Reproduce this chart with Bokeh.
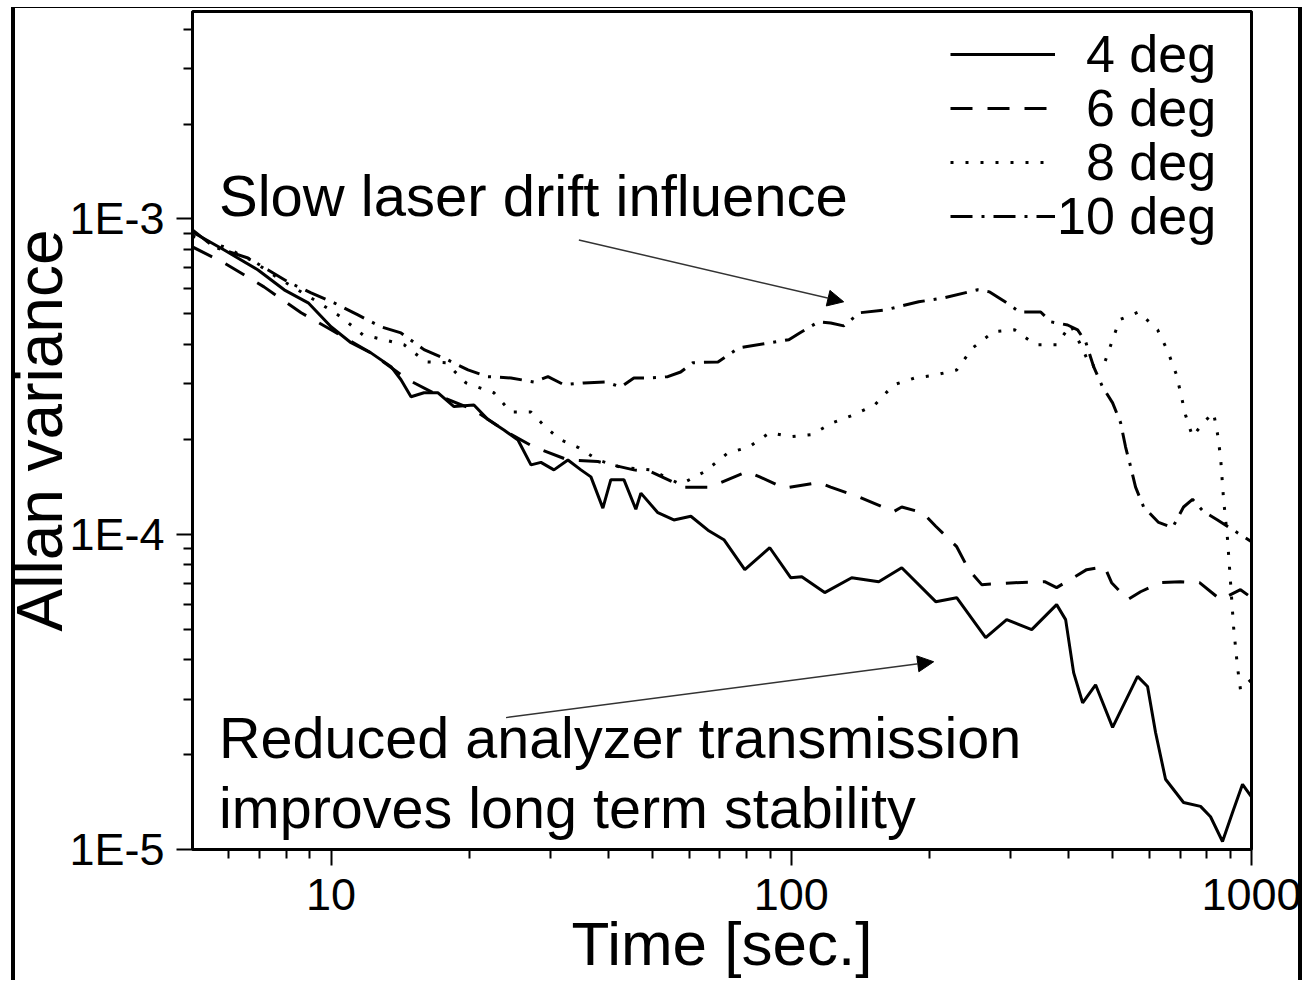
from bokeh.plotting import figure
from bokeh.models import (FixedTicker, Legend, LegendItem, Label, Arrow,
                          NormalHead, Range1d)
from bokeh.embed import file_html
from bokeh.resources import INLINE

FONT = "Liberation Sans"

# ---------------- data ----------------
x_ticks = [10, 100, 1000]
x_tick_labels = ["10", "100", "1000"]
y_ticks = [1e-5, 1e-4, 1e-3]
y_tick_labels = ["1E-5", "1E-4", "1E-3"]

series_labels = ["\u20074 deg", "\u20076 deg", "\u20078 deg", "10 deg"]

# 4 deg (solid)
t4 = [5.0, 5.86, 6.94, 7.91, 8.92, 10.0, 11.05, 12.21, 13.5, 14.19, 14.92, 15.92,
      17.08, 18.5, 20.44, 21.93, 23.75, 25.48, 27.19, 28.58, 30.5, 32.71, 34.91,
      36.7, 38.96, 40.55, 43.28, 45.95, 47.12, 51.3, 55.56, 60.51, 65.91, 71.38,
      79.25, 89.81, 99.7, 105.4, 118.2, 135.3, 154.9, 173.8, 206.0, 228.8, 264.5,
      293.8, 333.0, 377.2, 394.6, 410.7, 429.6, 458.4, 499.1, 565.5, 594.5, 618.8,
      650.5, 711.8, 775.0, 814.7, 865.0, 909.4, 956.1, 1000.0]
v4 = [9.09e-4, 7.97e-4, 6.89e-4, 5.96e-4, 5.42e-4, 4.55e-4, 4.05e-4, 3.76e-4,
      3.40e-4, 3.09e-4, 2.73e-4, 2.81e-4, 2.81e-4, 2.54e-4, 2.57e-4, 2.31e-4,
      2.14e-4, 1.99e-4, 1.66e-4, 1.69e-4, 1.60e-4, 1.72e-4, 1.60e-4, 1.52e-4,
      1.21e-4, 1.49e-4, 1.49e-4, 1.20e-4, 1.35e-4, 1.17e-4, 1.11e-4, 1.14e-4,
      1.03e-4, 9.61e-5, 7.72e-5, 9.06e-5, 7.28e-5, 7.33e-5, 6.53e-5, 7.28e-5,
      7.07e-5, 7.83e-5, 6.11e-5, 6.29e-5, 4.70e-5, 5.36e-5, 4.98e-5, 5.98e-5,
      5.36e-5, 3.64e-5, 2.92e-5, 3.33e-5, 2.44e-5, 3.54e-5, 3.29e-5, 2.35e-5,
      1.67e-5, 1.41e-5, 1.37e-5, 1.27e-5, 1.06e-5, 1.31e-5, 1.61e-5, 1.47e-5]

# 6 deg (dashed)
t6 = [5.0, 5.86, 7.15, 8.61, 10.0, 12.21, 14.70, 17.33, 20.44, 24.23, 27.60, 32.71,
      38.0, 45.5, 49.5, 58.4, 66.5, 80.1, 85.4, 96.8, 114.7, 121.8, 140.8, 167.0,
      173.8, 193.0, 206.0, 228.8, 243.0, 259.3, 305.6, 355.3, 377.2, 438.3, 479.6,
      496.6, 538.0, 574.1, 634.6, 701.3, 771.1, 856.5, 946.5, 1000.0]
v6 = [8.15e-4, 7.25e-4, 6.09e-4, 5.04e-4, 4.45e-4, 3.76e-4, 3.09e-4, 2.73e-4,
      2.48e-4, 2.10e-4, 1.89e-4, 1.72e-4, 1.70e-4, 1.60e-4, 1.58e-4, 1.41e-4,
      1.41e-4, 1.58e-4, 1.52e-4, 1.40e-4, 1.46e-4, 1.41e-4, 1.31e-4, 1.18e-4,
      1.22e-4, 1.17e-4, 1.06e-4, 9.13e-5, 7.72e-5, 6.92e-5, 7.02e-5, 7.07e-5,
      6.77e-5, 7.72e-5, 7.89e-5, 7.02e-5, 6.20e-5, 6.57e-5, 7.02e-5, 7.07e-5,
      7.02e-5, 6.20e-5, 6.67e-5, 6.29e-5]

# 8 deg (dotted)
t8 = [5.0, 5.86, 6.70, 7.67, 9.42, 10.51, 11.73, 13.03, 14.41, 16.08, 17.77, 19.64,
      22.59, 24.60, 27.19, 29.31, 31.59, 34.56, 38.0, 42.64, 49.5, 57.5, 64.9, 72.8,
      80.9, 89.8, 99.7, 110.8, 123.1, 136.7, 151.8, 167.0, 185.4, 206.0, 228.8,
      247.9, 275.3, 305.6, 339.6, 377.2, 404.6, 427.4, 447.1, 479.6, 496.6, 516.9,
      568.3, 625.2, 657.1, 687.3, 718.8, 744.5, 786.5, 827.0, 843.7, 856.5, 869.6,
      887.2, 900.5, 914.1, 932.5, 946.5, 980.2, 1000.0]
v8 = [8.83e-4, 8.15e-4, 7.41e-4, 6.50e-4, 5.42e-4, 4.89e-4, 4.29e-4, 4.14e-4,
      3.99e-4, 3.52e-4, 3.50e-4, 3.02e-4, 2.81e-4, 2.44e-4, 2.44e-4, 2.18e-4,
      1.99e-4, 1.88e-4, 1.72e-4, 1.63e-4, 1.60e-4, 1.44e-4, 1.58e-4, 1.81e-4,
      1.89e-4, 2.10e-4, 2.04e-4, 2.07e-4, 2.26e-4, 2.39e-4, 2.57e-4, 2.98e-4,
      3.13e-4, 3.20e-4, 3.32e-4, 3.90e-4, 4.39e-4, 4.45e-4, 3.99e-4, 3.99e-4,
      4.61e-4, 3.93e-4, 3.40e-4, 3.50e-4, 4.05e-4, 4.79e-4, 5.07e-4, 4.45e-4,
      3.82e-4, 3.20e-4, 2.39e-4, 2.04e-4, 2.26e-4, 2.43e-4, 2.08e-4, 1.76e-4,
      1.29e-4, 9.61e-5, 7.02e-5, 5.09e-5, 3.78e-5, 3.21e-5, 3.38e-5, 3.46e-5]

# 10 deg (dash-dot)
t10 = [5.0, 5.57, 6.60, 7.30, 8.07, 9.05, 10.15, 11.44, 12.84, 14.19, 15.92, 17.95,
       19.84, 21.93, 24.60, 27.60, 29.60, 32.07, 35.44, 39.56, 42.64, 45.5, 48.8,
       53.9, 57.5, 61.1, 69.3, 76.9, 98.8, 104.3, 114.7, 121.8, 130.0, 140.8, 160.4,
       189.2, 214.4, 254.1, 269.8, 293.8, 313.4, 348.3, 366.1, 398.5, 419.0, 436.1,
       453.9, 474.8, 499.1, 519.4, 532.6, 546.1, 559.9, 583.0, 628.3, 673.7, 711.8,
       744.5, 786.5, 843.7, 932.5, 1000.0]
v10 = [9.23e-4, 8.15e-4, 7.52e-4, 6.89e-4, 6.31e-4, 5.83e-4, 5.42e-4, 4.96e-4,
       4.55e-4, 4.35e-4, 3.85e-4, 3.57e-4, 3.32e-4, 3.16e-4, 3.13e-4, 3.04e-4,
       3.16e-4, 2.98e-4, 3.02e-4, 3.04e-4, 2.93e-4, 3.13e-4, 3.13e-4, 3.16e-4,
       3.27e-4, 3.50e-4, 3.52e-4, 3.90e-4, 4.14e-4, 4.35e-4, 4.72e-4, 4.68e-4,
       4.58e-4, 5.04e-4, 5.15e-4, 5.46e-4, 5.62e-4, 5.96e-4, 5.87e-4, 5.42e-4,
       5.07e-4, 5.07e-4, 4.72e-4, 4.61e-4, 4.45e-4, 4.08e-4, 3.40e-4, 2.93e-4,
       2.61e-4, 2.26e-4, 1.89e-4, 1.64e-4, 1.41e-4, 1.22e-4, 1.09e-4, 1.05e-4,
       1.22e-4, 1.29e-4, 1.18e-4, 1.11e-4, 1.01e-4, 9.47e-5]

# annotations (data coordinates)
note1_text = "Slow laser drift influence"
note1_pos = (5.71, 1.191e-3)
arrow1 = (34.55, 8.58e-4, 130.0, 5.46e-4)
note2_lines = ["Reduced analyzer transmission", "improves long term stability"]
note2_pos = [(5.71, 2.25e-5), (5.71, 1.35e-5)]
arrow2 = (24.0, 2.62e-5, 203.9, 3.94e-5)

# ---------------- figure ----------------
page_frame = ("linear-gradient(#000,#000) 11px 7px / 4px 974px no-repeat, "
              "linear-gradient(#000,#000) 1298px 7px / 4px 974px no-repeat, "
              "linear-gradient(#000,#000) 11px 7px / 1291px 1px no-repeat, #fff")

p = figure(width=1302, height=980,
           x_axis_type="log", y_axis_type="log",
           x_range=Range1d(5, 1000), y_range=Range1d(1e-5, 4.55e-3),
           output_backend="svg", toolbar_location=None,
           min_border_left=192, min_border_right=51, min_border_top=11,
           min_border_bottom=130,
           background_fill_color="white", border_fill_alpha=0,
           styles={"background": page_frame})
p.title.visible = False
p.xgrid.visible = False
p.ygrid.visible = False
p.outline_line_color = "black"
p.outline_line_width = 3

x_minor = [m * d for d in (1, 10, 100) for m in range(2, 10) if 5 < m * d < 1000]
y_minor = [m * d for d in (1e-5, 1e-4, 1e-3) for m in range(2, 10) if m * d < 4.55e-3]
p.xaxis.ticker = FixedTicker(ticks=x_ticks, minor_ticks=x_minor)
p.yaxis.ticker = FixedTicker(ticks=y_ticks, minor_ticks=y_minor)
p.xaxis.major_label_overrides = dict(zip(x_ticks, x_tick_labels))
p.yaxis.major_label_overrides = dict(zip(y_ticks, y_tick_labels))

for ax in (p.xaxis[0], p.yaxis[0]):
    ax.axis_line_width = 2
    ax.major_tick_line_width = 2
    ax.minor_tick_line_width = 2
    ax.major_tick_in = 0
    ax.minor_tick_in = 0
    ax.major_tick_out = 16
    ax.minor_tick_out = 9
    ax.major_label_text_font = FONT
    ax.major_label_text_font_size = "45px"
    ax.major_label_text_color = "black"
    ax.axis_label_text_font = FONT
    ax.axis_label_text_font_style = "normal"
    ax.axis_label_text_color = "black"

p.xaxis.axis_label = "Time [sec.]"
p.xaxis.axis_label_text_font_size = "62px"
p.xaxis.major_label_standoff = 13
p.xaxis.axis_label_standoff = -4
p.yaxis.axis_label = "Allan variance"
p.yaxis.axis_label_text_font_size = "64px"
p.yaxis.major_label_standoff = 12
p.yaxis.axis_label_standoff = -10

r4 = p.line(t4, v4, line_color="black", line_width=3)
r6 = p.line(t6, v6, line_color="black", line_width=3, line_dash="22 15")
r8 = p.line(t8, v8, line_color="black", line_width=3, line_dash="3 12")
r10 = p.line(t10, v10, line_color="black", line_width=3, line_dash="22 9 3 9")

# one legend box per entry, so that the row pitch matches the original
legend_rows_y = [765, 711, 657, 603]
for lab, r, ly in zip(series_labels, [r4, r6, r8, r10], legend_rows_y):
    lg = Legend(items=[LegendItem(label=lab, renderers=[r])],
                location=(758, ly), orientation="vertical",
                glyph_width=105, glyph_height=30, label_standoff=2,
                padding=0, margin=0, spacing=0,
                label_text_font=FONT, label_text_font_size="52px",
                label_text_color="black",
                background_fill_alpha=0, border_line_alpha=0)
    p.add_layout(lg)

p.add_layout(Label(x=note1_pos[0], y=note1_pos[1], text=note1_text,
                   text_font=FONT, text_font_size="58px", text_color="black",
                   text_baseline="alphabetic"))
for (lx, ly), txt in zip(note2_pos, note2_lines):
    p.add_layout(Label(x=lx, y=ly, text=txt, text_font=FONT, text_color="black",
                       text_font_size="57.5px", text_baseline="alphabetic"))

for a in (arrow1, arrow2):
    p.add_layout(Arrow(x_start=a[0], y_start=a[1], x_end=a[2], y_end=a[3],
                       line_color="#333333", line_width=1.5,
                       end=NormalHead(size=16, fill_color="black",
                                      line_color="black", line_width=1)))

open("out.html", "w").write(file_html(p, INLINE))
